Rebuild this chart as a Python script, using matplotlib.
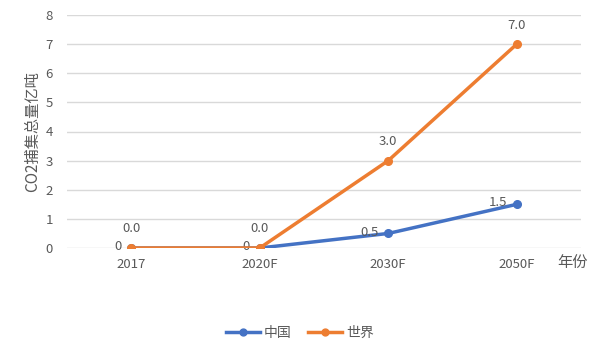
import matplotlib
matplotlib.use("Agg")
import matplotlib.pyplot as plt

plt.rcParams['font.family'] = ['Noto Sans CJK SC', 'DejaVu Sans']

categories = ["2017", "2020F", "2030F", "2050F"]
china = [0, 0, 0.5, 1.5]
world = [0.0, 0.0, 3.0, 7.0]
china_labels = ["0", "0", "0.5", "1.5"]
world_labels = ["0.0", "0.0", "3.0", "7.0"]

blue = "#4472C4"
orange = "#ED7D31"
gray = "#595959"

fig = plt.figure(figsize=(6, 3.57), dpi=100)
ax = fig.add_axes([67/600, 1-248/357, (581-67)/600, (248-15)/357])
x = list(range(len(categories)))
ax.plot(x, china, color=blue, lw=2.5, marker='o', ms=5.5, label="中国", zorder=3)
ax.plot(x, world, color=orange, lw=2.5, marker='o', ms=5.5, label="世界", zorder=4)

for xi, v, t in zip(x, china, china_labels):
    ax.annotate(t, (xi, v), xytext=(-7, 1), textcoords='offset points',
                ha='right', va='center', fontsize=9.5, color=gray)
for xi, v, t in zip(x, world, world_labels):
    ax.annotate(t, (xi, v), xytext=(0, 9), textcoords='offset points',
                ha='center', va='bottom', fontsize=9.5, color=gray)

ax.set_xlim(-0.5, 3.5)
ax.set_ylim(0, 8)
ax.set_yticks(range(0, 9))
ax.set_xticks(x)
ax.set_xticklabels(categories)
ax.grid(axis='y', color='#D9D9D9', lw=1)
ax.set_axisbelow(True)
for s in ax.spines.values():
    s.set_visible(False)
ax.tick_params(axis='both', length=0, colors=gray, labelsize=9.5)
ax.tick_params(axis='x', pad=7)
ax.tick_params(axis='y', pad=10)
ax.set_ylabel("CO2捕集总量亿吨", color=gray, fontsize=11, labelpad=3)
fig.text(573/600, 1-262/357, "年份", color=gray, fontsize=11, ha='center', va='center')

ax.legend(loc='center', bbox_to_anchor=(0.5, 1-333/357), bbox_transform=fig.transFigure,
          ncol=2, frameon=False, fontsize=10, labelcolor=gray, columnspacing=1.2,
          handlelength=2.4, handletextpad=0.3, markerscale=0.9)

fig.savefig("out.png", dpi=100, facecolor='white')
